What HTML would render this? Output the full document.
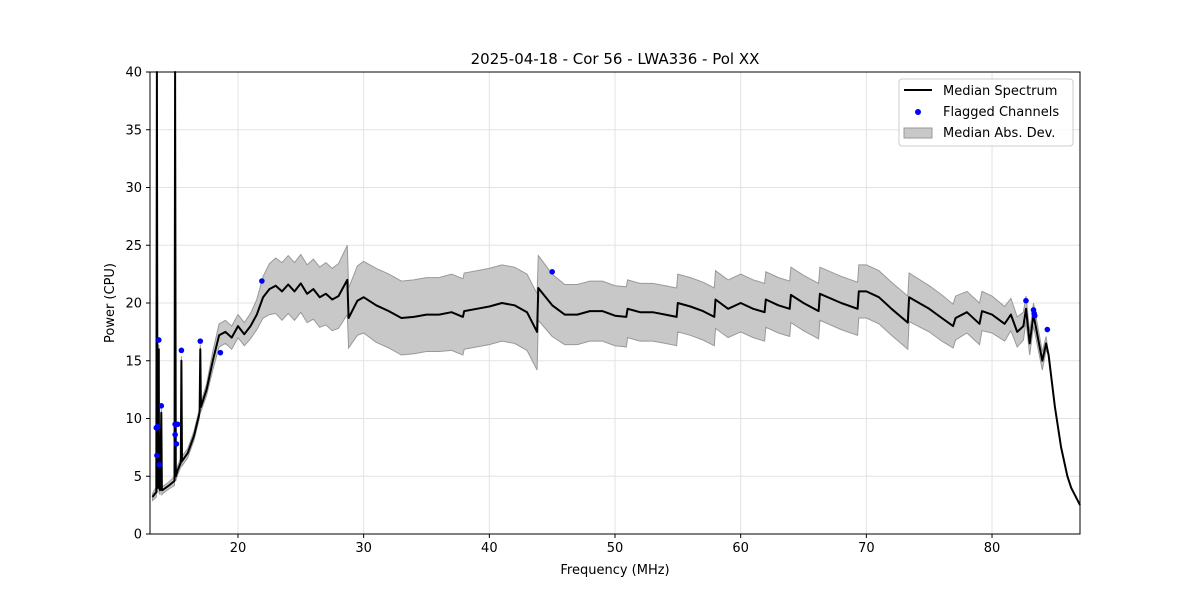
<!DOCTYPE html>
<html><head><meta charset="utf-8"><style>
body{margin:0;background:#fff;}
svg text{font-family:"DejaVu Sans","Liberation Sans",sans-serif;}
</style></head><body>
<svg id="chart" width="1200" height="600" xmlns="http://www.w3.org/2000/svg">
<rect width="1200" height="600" fill="#fff"/>
<g id="grid"></g>
<path id="band" fill="#c8c8c8" stroke="#999" stroke-width="1"/>
<path id="line" fill="none" stroke="#000" stroke-width="2" stroke-linejoin="round"/>
<g id="flags"></g>
<rect x="150" y="72" width="930" height="462" fill="none" stroke="#000" stroke-width="1"/>
<g id="ticks"></g>
<text x="615" y="64" text-anchor="middle" font-size="15">2025-04-18 - Cor 56 - LWA336 - Pol XX</text>
<text x="615" y="574" text-anchor="middle" font-size="13">Frequency (MHz)</text>
<text x="114" y="303" text-anchor="middle" font-size="13" transform="rotate(-90 114 303)">Power (CPU)</text>
<g>
<rect x="899" y="79" width="174" height="67" rx="3" fill="#fff" fill-opacity="0.8" stroke="#ccc"/>
<line x1="904" y1="90" x2="932" y2="90" stroke="#000" stroke-width="2"/>
<text x="943" y="95" font-size="13">Median Spectrum</text>
<circle cx="918" cy="112" r="3" fill="#00f"/>
<text x="943" y="116" font-size="13">Flagged Channels</text>
<rect x="904" y="128" width="28" height="10" fill="#c8c8c8" stroke="#999"/>
<text x="943" y="137" font-size="13">Median Abs. Dev.</text>
</g>
</svg>
<script>
const freqs=[13.2,13.4,13.5,13.55,13.6,13.7,13.72,13.8,13.9,13.95,14.0,14.5,14.95,15.0,15.05,15.2,15.45,15.5,15.55,16,16.5,16.95,17.0,17.05,17.5,18,18.5,19,19.5,20,20.5,21,21.5,22,22.5,23,23.5,24,24.5,25,25.5,26,26.5,27,27.5,28,28.7,28.8,29.5,30,31,32,33,34,35,36,37,37.9,38,39,40,41,42,43,43.8,43.9,45,46,47,48,49,50,50.9,51,52,53,54,54.9,55,56,57,57.9,58,59,60,61,61.9,62,63,63.9,64,65,66.2,66.3,68,69.3,69.4,70,71,72,73.3,73.4,75,76,76.9,77.1,78,79,79.2,80,81,81.5,82,82.5,82.7,83,83.3,84,84.3,84.5,85,85.5,86,86.3,87];
const median=[3.2,3.5,3.6,40,4.0,16,4.0,3.8,10.5,3.8,3.8,4.2,4.6,40,5.0,5.5,6.2,15,6.3,7.0,8.5,10.5,16,11,12.5,15,17.2,17.5,17.0,18,17.3,18,19,20.5,21.2,21.5,21.0,21.6,21.0,21.7,20.8,21.2,20.5,20.8,20.3,20.6,22.0,18.7,20.2,20.5,19.8,19.3,18.7,18.8,19.0,19.0,19.2,18.8,19.3,19.5,19.7,20.0,19.8,19.2,17.5,21.3,19.8,19.0,19.0,19.3,19.3,18.9,18.8,19.5,19.2,19.2,19.0,18.8,20.0,19.7,19.3,18.8,20.3,19.5,20.0,19.5,19.2,20.3,19.8,19.5,20.7,20.0,19.3,20.8,20.0,19.5,21.0,21.0,20.5,19.5,18.3,20.5,19.5,18.7,18.0,18.7,19.2,18.2,19.3,19.0,18.2,19.0,17.5,18.0,19.5,16.5,19.0,15.0,16.5,15.5,11.0,7.5,5.0,4.0,2.5];
const mad=[0.3,0.4,0.4,0.4,0.4,0.4,0.4,0.4,0.4,0.4,0.3,0.3,0.4,0.4,0.4,0.4,0.4,0.4,0.4,0.4,0.4,0.4,0.4,0.4,0.5,0.8,1.0,1.0,1.0,1.0,1.0,1.1,1.3,1.8,2.2,2.4,2.5,2.5,2.5,2.5,2.5,2.6,2.6,2.7,2.7,2.8,3.0,2.6,3.0,3.1,3.2,3.2,3.2,3.2,3.2,3.2,3.3,3.3,3.3,3.3,3.3,3.3,3.3,3.3,3.3,2.8,2.7,2.6,2.6,2.6,2.6,2.6,2.6,2.5,2.5,2.5,2.5,2.5,2.5,2.5,2.5,2.5,2.5,2.5,2.5,2.5,2.5,2.4,2.4,2.4,2.4,2.4,2.4,2.3,2.3,2.3,2.3,2.3,2.3,2.3,2.3,2.1,2.0,2.0,1.9,1.9,1.8,1.8,1.7,1.6,1.5,1.4,1.3,1.2,1.1,1.0,1.0,0.8,0.6,0.0,0.0,0.0,0.0,0.0,0.0];
const flagFreqs=[13.5,13.55,13.6,13.7,13.75,13.9,15.0,15.0,15.1,15.2,15.5,17.0,18.6,21.9,45.0,82.7,83.3,83.35,83.4,84.4];
const flagVals=[9.2,6.8,9.3,16.8,6.0,11.1,9.5,8.6,7.8,9.5,15.9,16.7,15.7,21.9,22.7,20.2,19.4,19.1,18.9,17.7];
const xTicks=[20,30,40,50,60,70,80];
const yTicks=[0,5,10,15,20,25,30,35,40];
const X0=13,X1=87,Y0=0,Y1=40,PL=150,PR=1080,PT=72,PB=534;
const xs=v=>PL+(v-X0)/(X1-X0)*(PR-PL);
const ys=v=>PB-(Math.min(v,Y1)-Y0)/(Y1-Y0)*(PB-PT);
const NS='http://www.w3.org/2000/svg';
const gridG=document.getElementById('grid'),tickG=document.getElementById('ticks');
function mk(tag,attrs,parent){const e=document.createElementNS(NS,tag);for(const k in attrs)e.setAttribute(k,attrs[k]);parent.appendChild(e);return e;}
xTicks.forEach(t=>{const x=xs(t);
const g=mk('line',{x1:x,x2:x,y1:PT,y2:PB,stroke:'#e3e3e3','stroke-width':1},gridG);


const tk=mk('line',{x1:x,x2:x,y1:PB,y2:PB+4,stroke:'#000'},tickG);


const tx=mk('text',{x:x,y:PB+18,'text-anchor':'middle','font-size':13},tickG);tx.textContent=t;

});
yTicks.forEach(t=>{const y=ys(t);
const g=mk('line',{x1:PL,x2:PR,y1:y,y2:y,stroke:'#e3e3e3','stroke-width':1},gridG);


const tk=mk('line',{x1:PL-4,x2:PL,y1:y,y2:y,stroke:'#000'},tickG);


const tx=mk('text',{x:PL-8,y:y+4.5,'text-anchor':'end','font-size':13},tickG);tx.textContent=t;

});
let upperPath='',lowerPath='',linePath='';
freqs.forEach((f,i)=>{upperPath+=(i?'L':'M')+xs(f).toFixed(1)+','+ys(median[i]+mad[i]).toFixed(1);
linePath+=(i?'L':'M')+xs(f).toFixed(1)+','+ys(median[i]).toFixed(1);});
for(let i=freqs.length-1;i>=0;i--)lowerPath+='L'+xs(freqs[i]).toFixed(1)+','+ys(median[i]-mad[i]).toFixed(1);
document.getElementById('band').setAttribute('d',upperPath+lowerPath+'Z');
document.getElementById('line').setAttribute('d',linePath);
const fg=document.getElementById('flags');
flagFreqs.forEach((f,i)=>{const c=mk('circle',{cx:xs(f),cy:ys(flagVals[i]),r:2.8,fill:'#00f'},fg);

});
</script>
</body></html>
